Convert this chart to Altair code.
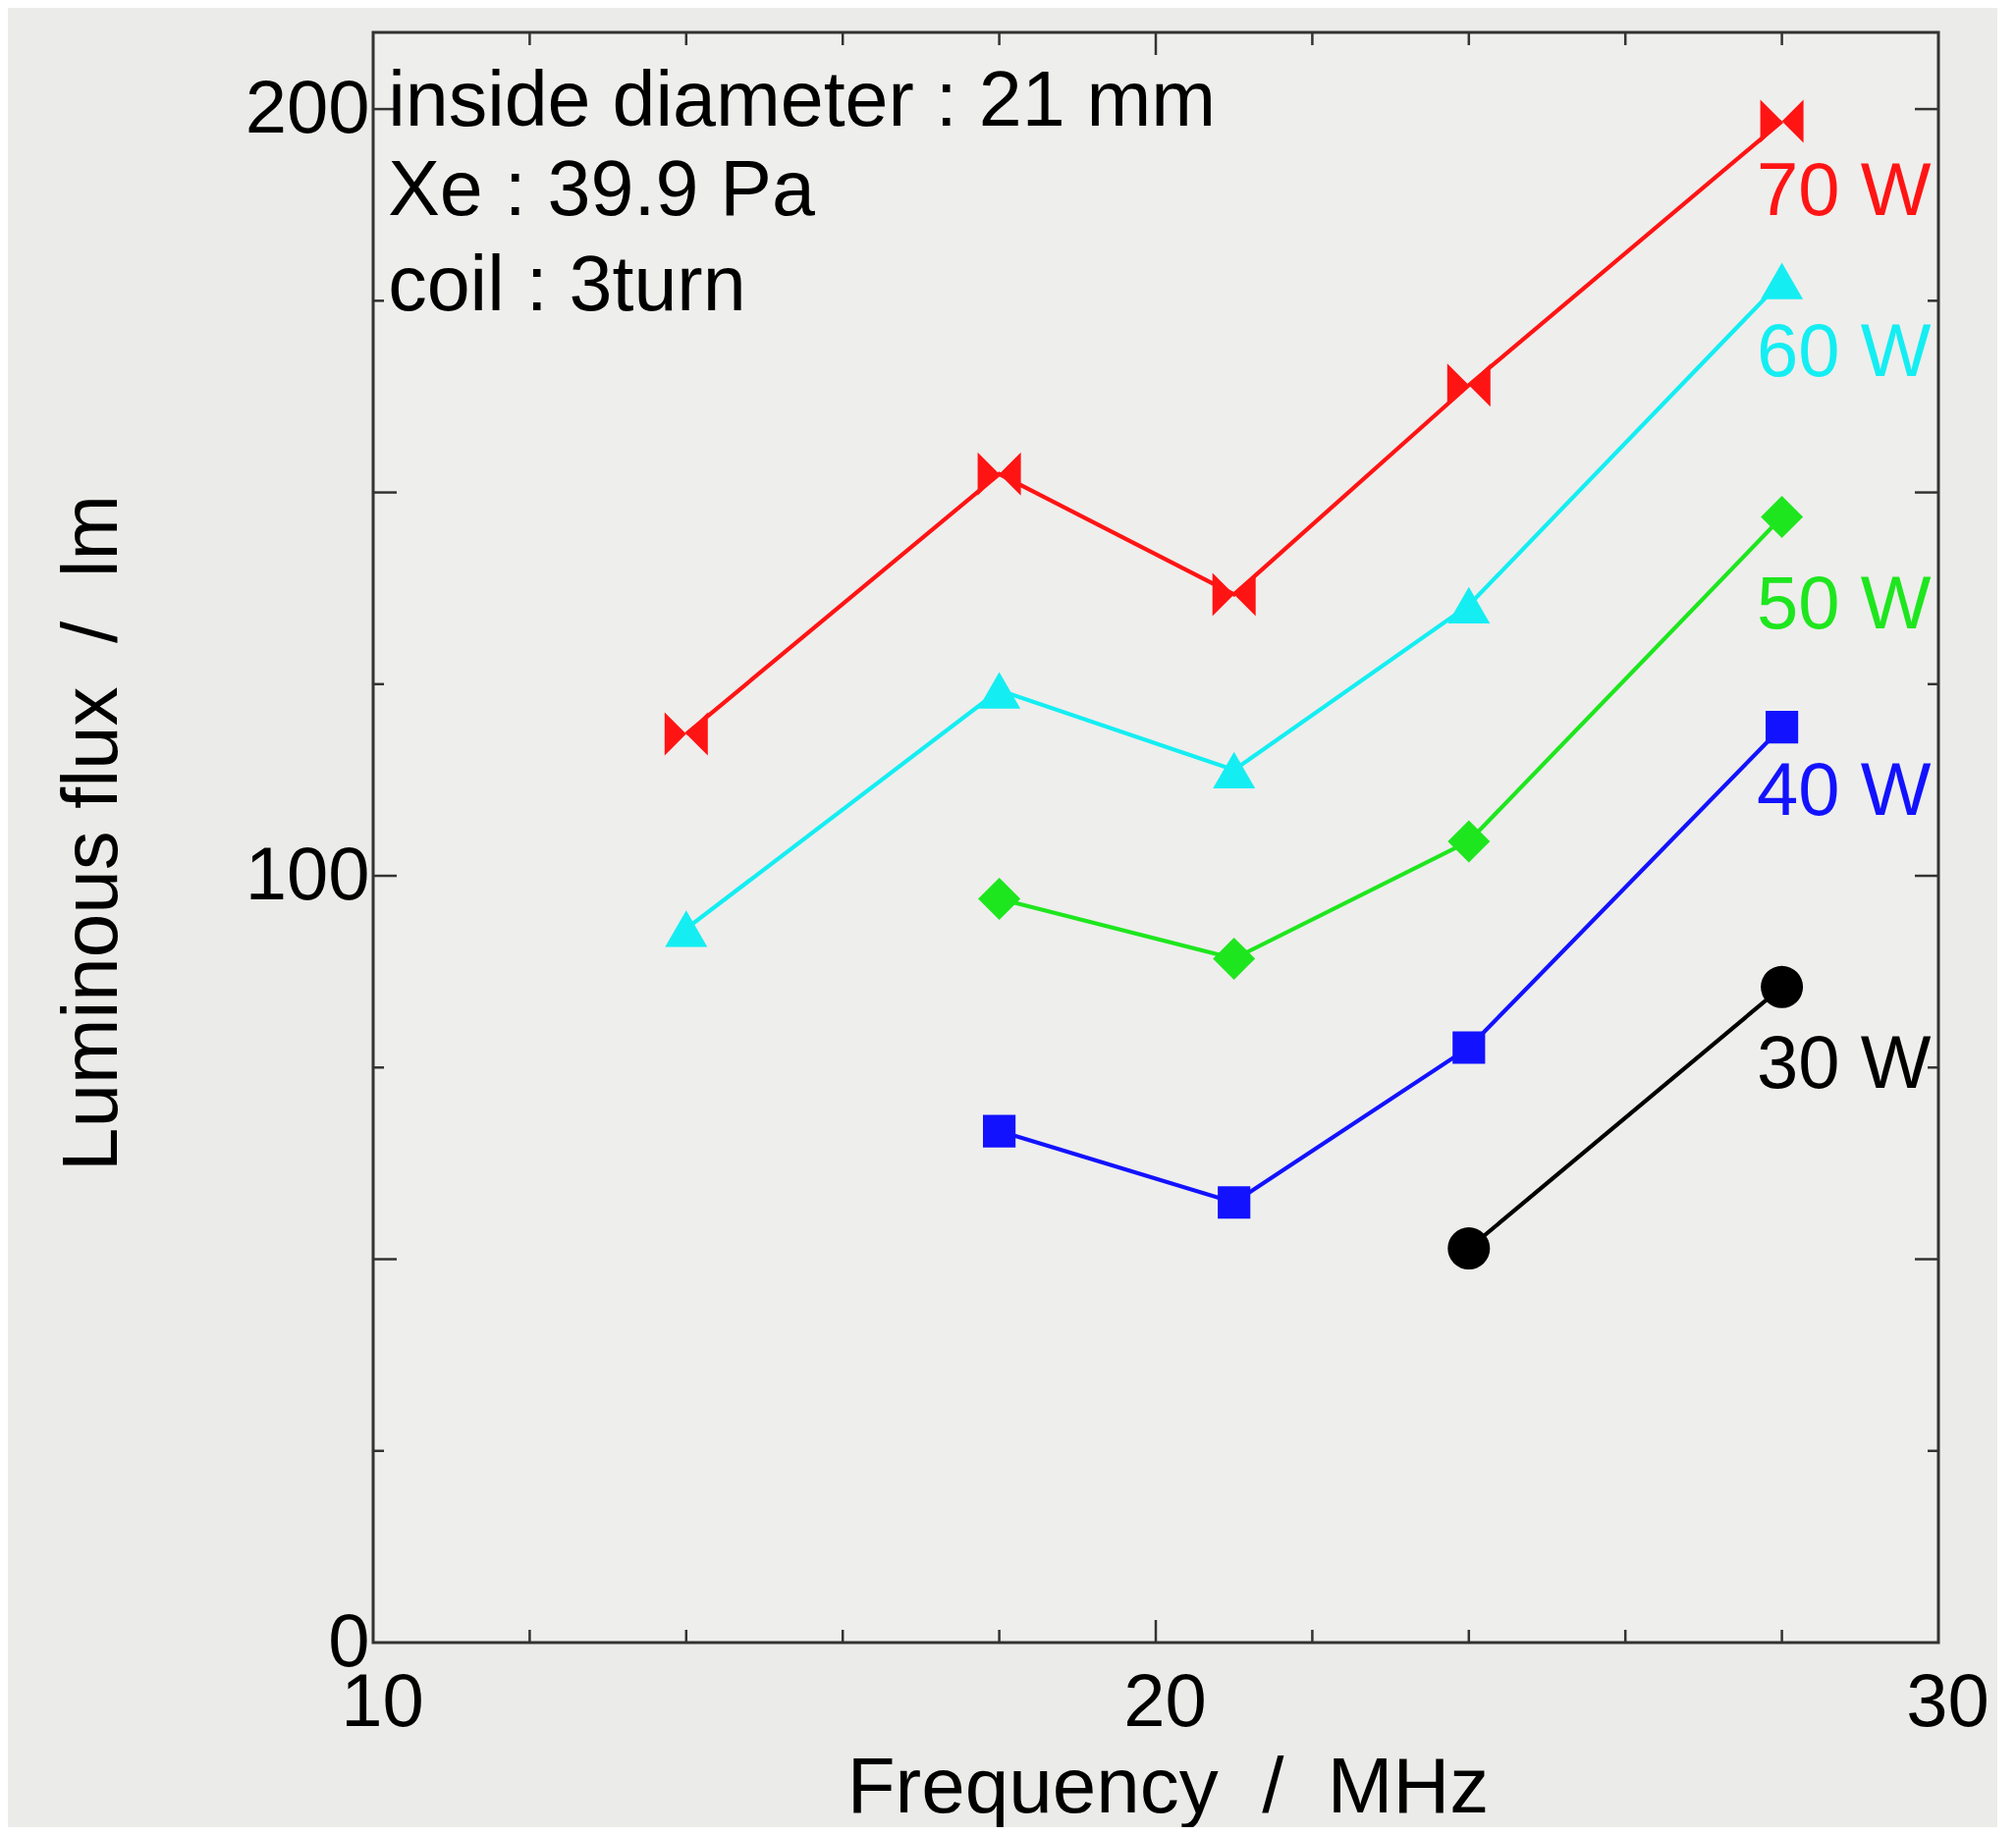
import altair as alt
import pandas as pd

# ---- data ----
freq_70 = [14, 18, 21, 24, 28]
flux_70 = [118.5, 152.4, 136.7, 164.0, 198.4]
freq_60 = [14, 18, 21, 24, 28]
flux_60 = [93.1, 124.2, 113.8, 135.3, 177.6]
freq_50 = [18, 21, 24, 28]
flux_50 = [97.0, 89.2, 104.5, 146.8]
freq_40 = [18, 21, 24, 28]
flux_40 = [66.7, 57.4, 77.6, 119.4]
freq_30 = [24, 28]
flux_30 = [51.4, 85.5]

series_names = ["70 W", "60 W", "50 W", "40 W", "30 W"]
series_colors = ["#ff1414", "#14eef2", "#1ee61e", "#1212ff", "#000000"]
label_freq = [27.68, 27.68, 27.68, 27.68, 27.68]
label_flux = [186.2, 165.2, 132.3, 108.0, 72.3]

notes = ["inside diameter : 21 mm", "Xe : 39.9 Pa", "coil : 3turn"]
note_freq = [10.19, 10.19, 10.19]
note_flux = [197.8, 186.2, 173.8]

x_labels = [10, 20, 30]
y_labels = [0, 100, 200]
x_minor = [12, 14, 16, 18, 22, 24, 26, 28]
x_major = [20]
y_minor = [25, 75, 125, 175]
y_major = [50, 100, 150, 200]

NB = "\u00a0"
x_title = "Frequency" + NB * 2 + "/" + NB * 2 + "MHz"
y_title = "Luminous flux" + NB * 2 + "/" + NB * 2 + "lm"

# ---- styling ----
W, H = 1594, 1640
FONT = "Liberation Sans"
AX = "#333333"

x_axis = alt.Axis(values=x_labels, title=x_title, ticks=False, tickSize=0,
                  domain=False, grid=False, labelFlush=False, labelOverlap=False,
                  labelFontSize=76, labelBaseline="alphabetic", labelPadding=84,
                  labelOffset=9,
                  labelColor="#000000", labelFont=FONT,
                  titleFont=FONT, titleFontSize=80, titleFontWeight="normal",
                  titleColor="#000000", titleBaseline="alphabetic", titleY=172,
                  titleX=W / 2 + 12)
y_axis = alt.Axis(values=y_labels, title=y_title, ticks=False, tickSize=0,
                  domain=False, grid=False, labelFlush=False, labelOverlap=False,
                  labelFontSize=76, labelBaseline="middle", labelPadding=4,
                  labelColor="#000000", labelFont=FONT,
                  titleFont=FONT, titleFontSize=80, titleFontWeight="normal",
                  titleColor="#000000", titleBaseline="alphabetic", titleAngle=-90,
                  titleX=-262, titleY=H / 2 - 5)

xs = alt.Scale(domain=[10, 30], nice=False, zero=False)
ys = alt.Scale(domain=[0, 210], nice=False, zero=False)
X = alt.X("f:Q", scale=xs, axis=x_axis)
Y = alt.Y("v:Q", scale=ys, axis=y_axis)

layers = []

# inward ticks
def xticks(vals, length):
    df = pd.DataFrame({"f": vals})
    b = alt.Chart(df).mark_rule(color=AX, strokeWidth=2.5)
    return [b.encode(x=X, y=alt.value(H), y2=alt.value(H - length)),
            b.encode(x=X, y=alt.value(0), y2=alt.value(length))]

def yticks(vals, length):
    df = pd.DataFrame({"v": vals})
    b = alt.Chart(df).mark_rule(color=AX, strokeWidth=2.5)
    return [b.encode(y=Y, x=alt.value(0), x2=alt.value(length)),
            b.encode(y=Y, x=alt.value(W), x2=alt.value(W - length))]

layers += xticks(x_minor, 13) + xticks(x_major, 23)
layers += yticks(y_minor, 11) + yticks(y_major, 24)

BOWTIE = "M-1,-1 L0,0 L-1,1 Z M1,-1 L1,1 L0,0 Z"
series = [
    (freq_70, flux_70, series_colors[0], BOWTIE, 1936),
    (freq_60, flux_60, series_colors[1], "triangle-up", 1850),
    (freq_50, flux_50, series_colors[2], "diamond", 1850),
    (freq_40, flux_40, series_colors[3], "square", 1100),
    (freq_30, flux_30, series_colors[4], "circle", 1850),
]
for fx, fy, col, shp, sz in series:
    df = pd.DataFrame({"f": fx, "v": fy})
    base = alt.Chart(df)
    layers.append(base.mark_line(color=col, strokeWidth=4.2).encode(x=X, y=Y))
for fx, fy, col, shp, sz in series:
    df = pd.DataFrame({"f": fx, "v": fy})
    base = alt.Chart(df)
    layers.append(base.mark_point(shape=shp, size=sz, filled=True, color=col,
                                  opacity=1, strokeWidth=0).encode(x=X, y=Y))

lab_df = pd.DataFrame({"f": label_freq, "v": label_flux, "t": series_names, "c": series_colors})
layers.append(alt.Chart(lab_df).mark_text(align="left", baseline="alphabetic",
                                          fontSize=76, font=FONT).encode(
    x=X, y=Y, text="t:N", color=alt.Color("c:N", scale=None)))

note_df = pd.DataFrame({"f": note_freq, "v": note_flux, "t": notes})
layers.append(alt.Chart(note_df).mark_text(align="left", baseline="alphabetic",
                                           fontSize=79, font=FONT, color="#000000").encode(
    x=X, y=Y, text="t:N"))

chart = alt.layer(*layers).properties(
    width=W, height=H,
    padding={"left": 372, "top": 25, "right": 60, "bottom": 188},
    autosize=alt.AutoSizeParams(type="none"),
    background="#ebebe9",
).configure_view(stroke=AX, strokeWidth=3, fill="#eeeeec")

chart.save("out.html", embed_options={"renderer": "svg", "actions": False})
